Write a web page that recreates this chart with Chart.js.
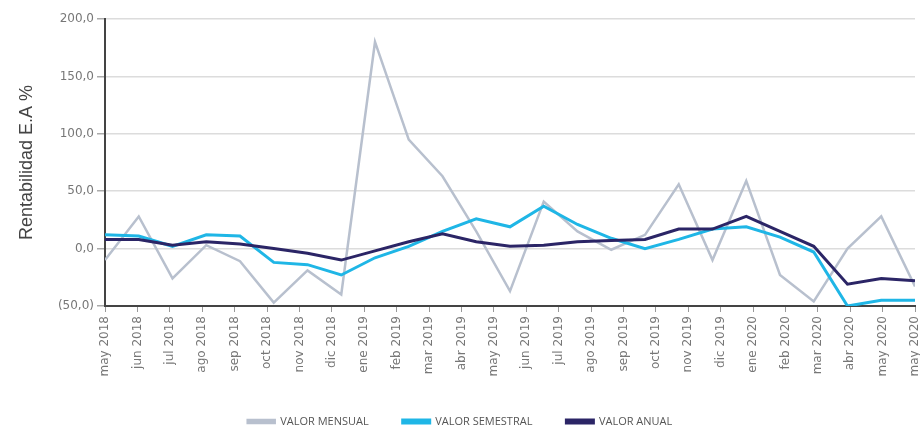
<!DOCTYPE html>
<html>
<head>
<meta charset="utf-8">
<script src="https://cdn.jsdelivr.net/npm/chart.js@4/dist/chart.umd.min.js"></script>
<style>
  html, body { margin: 0; padding: 0; background: #fff; }
  #wrap { width: 920px; height: 431px; }
</style>
</head>
<body>
<div id="wrap"><canvas id="chart" width="920" height="431"></canvas></div>
<script>
/* etiquetas del eje (26) – los datos tienen 25 puntos, como en la imagen */
const etiquetas = [
  'may 2018', 'jun 2018', 'jul 2018', 'ago 2018', 'sep 2018', 'oct 2018',
  'nov 2018', 'dic 2018', 'ene 2019', 'feb 2019', 'mar 2019', 'abr 2019',
  'may 2019', 'jun 2019', 'jul 2019', 'ago 2019', 'sep 2019', 'oct 2019',
  'nov 2019', 'dic 2019', 'ene 2020', 'feb 2020', 'mar 2020', 'abr 2020',
  'may 2020', 'may 2020'
]

const valorMensual   = [-10, 28, -26, 3, -11, -47, -19, -40, 180, 95, 63, 15, -37, 41, 15, -1, 12, 56, -10, 59, -23, -46, 0, 28, -33]
const valorSemestral = [12, 11, 2, 12, 11, -12, -14, -23, -8, 2, 15, 26, 19, 37, 21, 9, 0, 8, 17, 19, 10, -3, -50, -45, -45]
const valorAnual     = [8, 8, 3, 6, 4, 0, -4, -10, -2, 6, 13, 6, 2, 3, 6, 7, 8, 17, 17, 28, 15, 2, -31, -26, -28]

const yTicks = [-50, 0, 50, 100, 150, 200]

const puntos = arr => arr.map((v, i) => ({ x: i, y: v }))

function serie (label, data, color, width, order) {
  return {
    label,
    data: puntos(data),
    xAxisID: 'xd',
    borderColor: color,
    backgroundColor: color,
    borderWidth: width,
    pointRadius: 0,
    tension: 0,
    order
  }
}

const fmt = v => {
  const s = Math.abs(v).toFixed(1).replace('.', ',')
  return v < 0 ? '(' + s + ')' : s
}

new Chart(document.getElementById('chart'), {
  type: 'line',
  data: {
    labels: etiquetas,
    datasets: [
      serie('VALOR MENSUAL', valorMensual, '#b8c0ce', 2.5, 3),
      serie('VALOR SEMESTRAL', valorSemestral, '#1fb6e6', 3, 2),
      serie('VALOR ANUAL', valorAnual, '#2b2566', 3, 1)
    ]
  },
  options: {
    responsive: false,
    devicePixelRatio: 1,
    animation: false,
    layout: { padding: { top: 19, right: 0, left: 0, bottom: -6 } },
    plugins: {
      tooltip: { enabled: false },
      legend: {
        position: 'bottom',
        labels: {
          sort: (a, b) => a.datasetIndex - b.datasetIndex,
          boxWidth: 27,
          boxHeight: 3,
          padding: 34,
          color: '#555',
          font: { family: 'Open Sans', size: 11 }
        }
      }
    },
    scales: {
      x: {
        type: 'category',
        offset: false,
        grid: { drawOnChartArea: false, drawTicks: true, tickLength: 6, color: '#999' },
        border: { display: true, color: '#444', width: 2 },
        ticks: {
          autoSkip: false, maxRotation: 90, minRotation: 90, padding: 4,
          color: '#777', font: { family: 'DejaVu Sans', size: 12 }
        },
        afterFit: s => { s.height = 76; s.paddingRight = 5; s.paddingLeft = 0 }
      },
      xd: { type: 'linear', min: 0, max: valorMensual.length - 1, display: false },
      y: {
        min: -50, max: 200,
        afterBuildTicks: s => { s.ticks = yTicks.map(v => ({ value: v })) },
        grid: { color: '#dcdcdc', lineWidth: 1.5, tickLength: 8, tickColor: '#aaa' },
        border: { display: true, color: '#444', width: 2 },
        ticks: {
          callback: v => fmt(v), padding: 3,
          color: '#777', font: { family: 'DejaVu Sans', size: 12 }
        },
        title: {
          display: true, text: 'Rentabilidad E.A %',
          color: '#444', font: { family: 'Liberation Sans', size: 18 },
          padding: { top: 16, bottom: 0 }
        },
        afterFit: s => { s.width = 105 }
      }
    }
  }
})
</script>
</body>
</html>
